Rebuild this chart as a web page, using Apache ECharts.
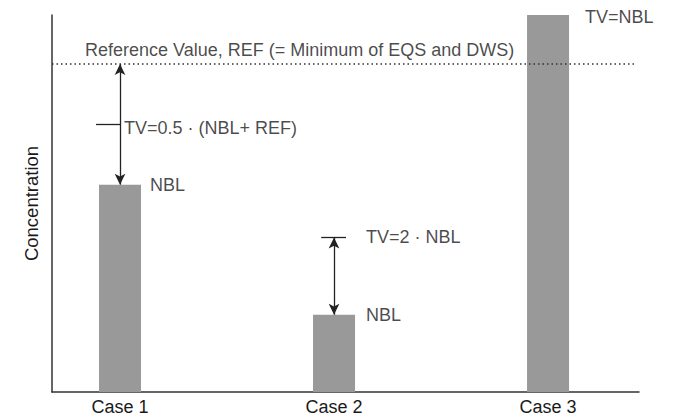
<!DOCTYPE html>
<html>
<head>
<meta charset="utf-8">
<script src="https://cdn.jsdelivr.net/npm/echarts@6/dist/echarts.min.js"></script>
<style>
html,body{margin:0;padding:0;background:#fff;}
#chart{width:674px;height:418px;}
</style>
</head>
<body>
<div id="chart"></div>
<script>
// ---- data ----
var cases = ['Case 1', 'Case 2', 'Case 3'];
var casePos = [1, 2, 3];
var nbl = [55, 20.5, 100];          // natural background level (bar heights)
var tv = [71, 41, 100];             // threshold values
var ref = 87;                       // reference value (min of EQS and DWS)
var yMax = 100;
var refText = 'Reference Value, REF (= Minimum of EQS and DWS)';
var nblText = ['NBL', 'NBL', ''];
var tvText = ['TV=0.5 \u00b7 (NBL+ REF)', 'TV=2 \u00b7 NBL', 'TV=NBL'];

var FONT = '"Liberation Sans", Arial, Helvetica, sans-serif';
var FS = 18;
var TXT = '#1a1a1a';
var LINE = '#222';

var chart = echarts.init(document.getElementById('chart'), null, {renderer: 'svg'});

var lbl = function (extra) {
  return Object.assign({show: true, position: 'right', fontFamily: FONT, fontSize: FS, color: TXT}, extra);
};

var annot = [];
// NBL labels
annot.push({value: [casePos[0], nbl[0]], label: lbl({formatter: nblText[0], distance: 30})});
annot.push({value: [casePos[1], nbl[1]], label: lbl({formatter: nblText[1], distance: 32})});
// TV labels
annot.push({value: [casePos[0], tv[0]], label: lbl({formatter: tvText[0], distance: 4, offset: [0, 4]})});
annot.push({value: [casePos[1], tv[1]], label: lbl({formatter: tvText[1], distance: 32})});
annot.push({value: [casePos[2], tv[2]], label: lbl({formatter: tvText[2], distance: 37, offset: [0, 2]})});
// REF label
annot.push({value: [casePos[0], ref], label: lbl({formatter: refText, distance: 0, offset: [-35, -14]})});

var arrowStyle = {color: LINE, width: 1.3, type: 'solid'};

var option = {
  animation: false,
  backgroundColor: '#fff',
  grid: {left: 52, right: 35, top: 15, bottom: 26, containLabel: false},
  xAxis: {
    type: 'value',
    min: 0.6822,
    max: 3.425,
    splitLine: {show: false},
    axisTick: {show: false},
    axisLine: {show: true, lineStyle: {color: '#333', width: 1.5}},
    axisLabel: {
      customValues: casePos,
      formatter: function (v) { return cases[Math.round(v) - 1]; },
      fontFamily: FONT, fontSize: FS, color: TXT, margin: 6
    }
  },
  yAxis: {
    type: 'value',
    min: 0,
    max: yMax,
    name: 'Concentration',
    nameLocation: 'middle',
    nameGap: 11,
    nameTextStyle: {fontFamily: FONT, fontSize: 18.5, color: TXT},
    splitLine: {show: false},
    axisTick: {show: false},
    axisLabel: {show: false},
    axisLine: {show: true, lineStyle: {color: '#333', width: 1.5}}
  },
  series: [
    {
      type: 'bar',
      barWidth: 42,
      itemStyle: {color: '#999999'},
      data: casePos.map(function (x, i) { return [x, nbl[i]]; }),
      markLine: {
        silent: true,
        animation: false,
        label: {show: false},
        symbol: ['arrow', 'arrow'],
        symbolSize: [8, 11],
        lineStyle: arrowStyle,
        data: [
          [{coord: [casePos[0], ref]}, {coord: [casePos[0], nbl[0]]}],
          [{coord: [casePos[1], tv[1]]}, {coord: [casePos[1], nbl[1]]}],
          [{coord: [casePos[0] - 0.112, tv[0]], symbol: 'none'}, {coord: [casePos[0], tv[0]], symbol: 'none'}],
          [{coord: [casePos[1] - 0.06, tv[1]], symbol: 'none'}, {coord: [casePos[1] + 0.056, tv[1]], symbol: 'none'}],
          [{coord: [0.6822, ref], symbol: 'none', lineStyle: {type: [1.5, 3], width: 1.6, color: '#333'}},
           {coord: [3.415, ref], symbol: 'none'}]
        ]
      }
    },
    {
      type: 'scatter',
      symbolSize: 0,
      silent: true,
      data: annot
    }
  ]
};
chart.setOption(option);
</script>
</body>
</html>
